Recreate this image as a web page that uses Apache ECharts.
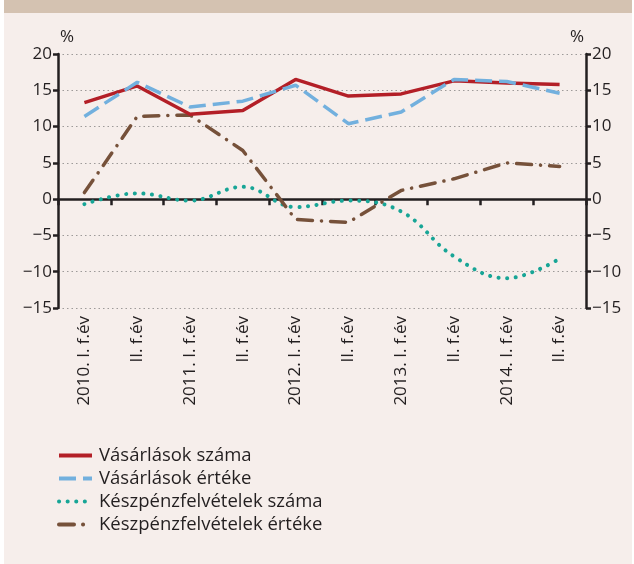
<!DOCTYPE html>
<html>
<head>
<meta charset="utf-8">
<script src="https://cdn.jsdelivr.net/npm/echarts@6/dist/echarts.min.js"></script>
<style>
  html, body { margin: 0; padding: 0; background: #ffffff; }
  .panel {
    position: absolute; left: 4px; top: 0; width: 628px; height: 564px;
    background: #f6eeeb;
    border-top: 13px solid #d4c2b1;
    box-sizing: border-box;
  }
  #chart { position: absolute; left: 0; top: 0; width: 634px; height: 564px; }
</style>
</head>
<body>
<div class="panel"></div>
<div id="chart"></div>
<script>
// félévek
const categories = ['2010. I. f.év', 'II. f.év', '2011. I. f.év', 'II. f.év', '2012. I. f.év',
  'II. f.év', '2013. I. f.év', 'II. f.év', '2014. I. f.év', 'II. f.év']
// Vásárlások száma
const vasarlasSzama = [13.3, 15.6, 11.7, 12.2, 16.5, 14.2, 14.5, 16.3, 16.0, 15.8]
// Vásárlások értéke
const vasarlasErteke = [11.4, 16.1, 12.7, 13.5, 15.7, 10.4, 12.0, 16.5, 16.2, 14.6]
// Készpénzfelvételek száma
const keszpenzSzama = [-0.7, 0.8, -0.2, 1.7, -1.1, -0.2, -1.7, -7.9, -10.9, -8.2]
// Készpénzfelvételek értéke
const keszpenzErteke = [0.9, 11.4, 11.6, 6.7, -2.8, -3.2, 1.2, 2.8, 5.0, 4.5]

const font = 'Open Sans'
const ink = '#231f20'

const yAxisBase = {
  type: 'value',
  min: -15,
  max: 20,
  interval: 5,
  name: '%',
  nameLocation: 'end',
  nameGap: 8,
  axisLine: { show: true, lineStyle: { color: ink, width: 2.5 } },
  axisTick: { show: true, length: 5, lineStyle: { color: ink, width: 2.5 } },
  axisLabel: {
    color: ink, fontSize: 17, fontFamily: font, margin: 6,
    formatter: v => (v < 0 ? '\u2212' + Math.abs(v) : '' + v)
  }
}

const chart = echarts.init(document.getElementById('chart'))
chart.setOption({
  animation: false,
  backgroundColor: 'transparent',
  grid: { left: 58, right: 48, top: 54, height: 254 },
  legend: {
    orient: 'vertical',
    left: 57,
    top: 446,
    padding: 0,
    itemWidth: 33,
    itemHeight: 10,
    itemGap: 4,
    itemStyle: { opacity: 0 },
    lineStyle: { width: 4 },
    textStyle: { color: ink, fontSize: 18.5, lineHeight: 18, fontFamily: font, padding: [0, 0, 0, 2] },
    data: ['Vásárlások száma', 'Vásárlások értéke', 'Készpénzfelvételek száma', 'Készpénzfelvételek értéke']
  },
  xAxis: [
    {
      type: 'category',
      data: categories,
      position: 'bottom',
      axisLine: { show: false, onZero: false },
      axisTick: { show: false },
      axisLabel: { rotate: 90, color: ink, fontSize: 17, fontFamily: font, margin: 8, interval: 0 }
    },
    {
      type: 'category',
      data: categories,
      position: 'bottom',
      axisLine: { show: true, onZero: true, onZeroAxisIndex: 0, lineStyle: { color: ink, width: 2.5 } },
      axisTick: { show: true, interval: 0, length: 6, lineStyle: { color: ink, width: 2.5 } },
      axisLabel: { show: false, interval: 0 }
    }
  ],
  yAxis: [
    Object.assign({}, yAxisBase, {
      position: 'left',
      nameTextStyle: { color: ink, fontSize: 17, fontFamily: font, align: 'left', padding: [0, 0, 0, 2] },
      splitLine: { show: true, lineStyle: { color: '#9d9a99', width: 1.2, type: [1.5, 3] } }
    }),
    Object.assign({}, yAxisBase, {
      position: 'right',
      nameTextStyle: { color: ink, fontSize: 17, fontFamily: font, align: 'right', padding: [0, 2, 0, 0] },
      splitLine: { show: false }
    })
  ],
  series: [
    {
      name: 'Vásárlások száma',
      type: 'line',
      data: vasarlasSzama,
      symbol: 'none',
      lineStyle: { color: '#b31f27', width: 3.5 },
      itemStyle: { color: '#b31f27' },
      z: 4
    },
    {
      name: 'Vásárlások értéke',
      type: 'line',
      data: vasarlasErteke,
      symbol: 'none',
      lineStyle: { color: '#72b0de', width: 3.5, type: [17, 7] },
      itemStyle: { color: '#72b0de' },
      z: 5
    },
    {
      name: 'Készpénzfelvételek száma',
      type: 'line',
      data: keszpenzSzama,
      symbol: 'none',
      smooth: 0.4,
      lineStyle: { color: '#17a596', width: 4, type: [0.1, 8.5], cap: 'round' },
      itemStyle: { color: '#17a596' },
      z: 3
    },
    {
      name: 'Készpénzfelvételek értéke',
      type: 'line',
      data: keszpenzErteke,
      symbol: 'none',
      lineStyle: { color: '#76513a', width: 3.5, type: [15, 9, 0.1, 9], cap: 'round' },
      itemStyle: { color: '#76513a' },
      z: 3
    }
  ]
})
</script>
</body>
</html>
